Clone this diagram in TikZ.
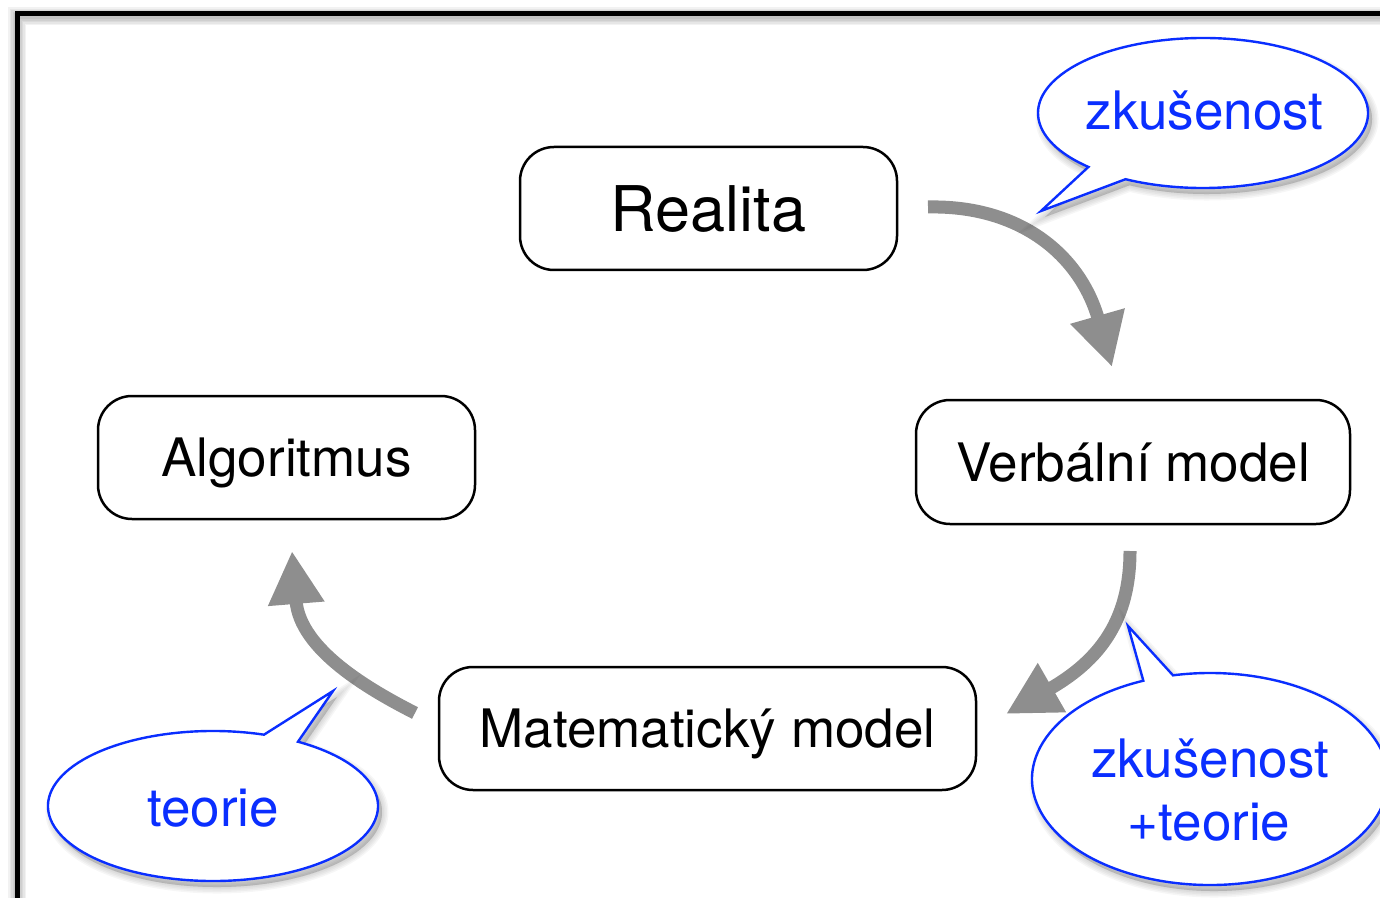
\documentclass[tikz,border=0pt]{standalone}
\usepackage{fontspec}
\setmainfont{TeX Gyre Heros}
\usetikzlibrary{arrows.meta}
\definecolor{arrowgray}{HTML}{8E8E8E}
\definecolor{bubblue}{HTML}{0A2EFF}
\newcommand\bubOnePath{(1203,-113) ++(242:165 and 75) arc[start angle=242,end angle=586,x radius=165,y radius=75] -- (1041,-211) -- cycle}
\newcommand\bubTwoPath{(1210,-779) ++(112:178 and 106) arc[start angle=112,end angle=462,x radius=178,y radius=106] -- (1128,-626) -- cycle}
\newcommand\bubThreePath{(213,-806) ++(72:165 and 75) arc[start angle=72,end angle=419,x radius=165,y radius=75] -- (333,-691) -- cycle}
\begin{document}
\begin{tikzpicture}[x=0.5pt,y=0.5pt,
  box/.style={draw=black, line width=1.25pt, rounded corners=17pt, inner sep=0pt,
    text height=19pt, text depth=0pt, font=\fontsize{26.5}{30}\selectfont},
  flow/.style={draw=arrowgray, line width=6.5pt, -{Triangle[length=26.5pt,width=26.5pt]}, arrowgray},
  bubble/.style={draw=bubblue, line width=1.2pt, fill=white, line join=miter},
  btext/.style={text=bubblue, font=\fontsize{26.5}{30}\selectfont, anchor=base, inner sep=0pt},
  softshadow/.style={fill=black, fill opacity=0.035, draw=black, draw opacity=0.035, line width=#1}
]
\useasboundingbox (0,0) rectangle (1380,-898);
% frame shadow
\foreach \w in {3,4.5,6,7.5,9}{
  \draw[black, opacity=0.05, line width=\w pt] (17,-16.5) rectangle (1460,-960);
}
% frame
\draw[black, line width=2.5pt] (17,-13.5) rectangle (1460,-960);

% boxes
\node[box, minimum width=188.5pt, minimum height=61.5pt, text height=22.6pt, font=\fontsize{31.5}{36}\selectfont] (real) at (708.5,-208.5) {Realita};
\node[box, minimum width=188.5pt, minimum height=61.5pt] (algo) at (286.5,-457.5) {Algoritmus};
\node[box, minimum width=217pt, minimum height=62pt] (verb) at (1133,-462) {Verbální model};
\node[box, minimum width=268.5pt, minimum height=61.5pt] (mat) at (707.5,-728.5) {Matematický model};

% arrow end points
\coordinate (a1s) at (928,-207);
\coordinate (a1e) at (1112,-367);
\coordinate (a2s) at (1130,-551);
\coordinate (a2e) at (1006,-714);
\coordinate (a3s) at (415,-713);
\coordinate (a3e) at (292,-551);
\draw[flow] (a1s) .. controls (1020,-205) and (1080,-255) .. (a1e);
\draw[flow] (a2s) .. controls (1130,-620) and (1100,-660) .. (a2e);
\draw[flow] (a3s) .. controls (370,-690) and (300,-650) .. (a3e);

% bubble shadows
\begin{scope}[transform canvas={shift={(2pt,-3pt)}}]
\foreach \w in {0.5,2,3.5,5,6.5}{
  \path[softshadow=\w pt] \bubOnePath;
  \path[softshadow=\w pt] \bubTwoPath;
  \path[softshadow=\w pt] \bubThreePath;
}
\end{scope}
% bubbles
\path[bubble] \bubOnePath;
\path[bubble] \bubTwoPath;
\path[bubble] \bubThreePath;

% bubble texts
\node[btext] (zk1) at (1204.5,-130) {zkušenost};
\node[btext] (zk2) at (1210,-777) {zkušenost};
\node[btext] (zk3) at (1209,-840) {+teorie};
\node[btext] (teo) at (213,-826) {teorie};
\end{tikzpicture}
\end{document}
